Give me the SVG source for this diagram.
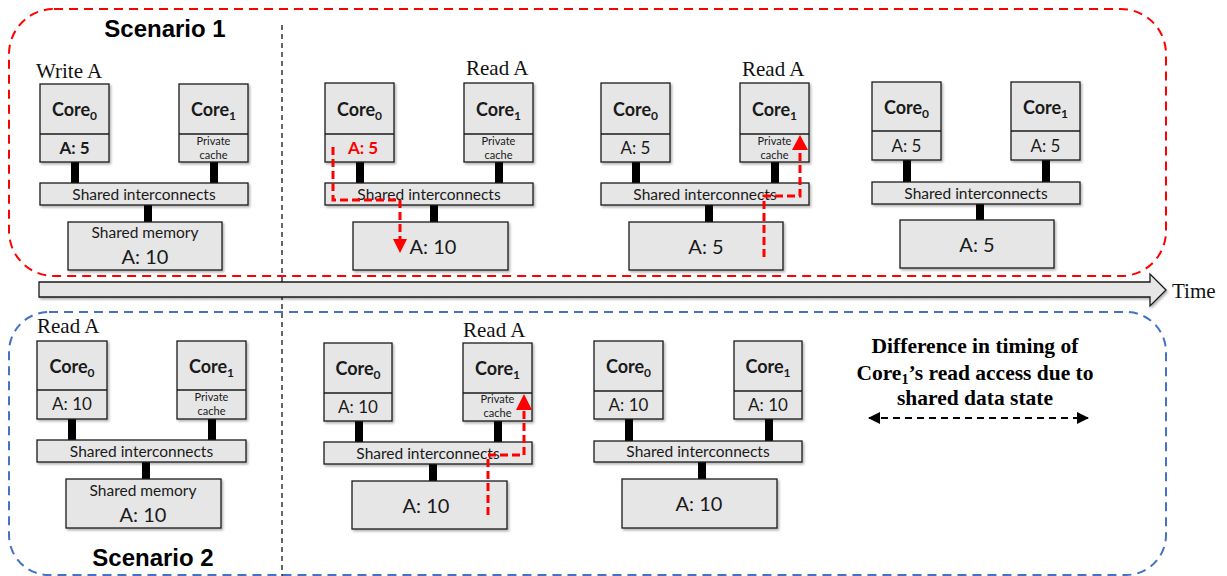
<svg xmlns="http://www.w3.org/2000/svg" width="1227" height="576" viewBox="0 0 1227 576">
  <defs>
    <filter id="sh" x="-10%" y="-10%" width="130%" height="140%">
      <feDropShadow dx="1.5" dy="1.8" stdDeviation="1.2" flood-color="#000" flood-opacity="0.3"/>
    </filter>
    <marker id="legend-head" viewBox="0 0 12 12" refX="11" refY="6" markerWidth="12" markerHeight="12" markerUnits="userSpaceOnUse" orient="auto-start-reverse">
      <path d="M0,0 L12,6 L0,12 Z" fill="#000"/>
    </marker>
  </defs>
  <style>
    .box{fill:#e6e6e6;stroke:#1a1a1a;stroke-width:1.3;filter:url(#sh)}
    .div{stroke:#1a1a1a;stroke-width:1.3}
    .cal{font-family:Lato,"Open Sans","Liberation Sans",sans-serif;fill:#1a1a1a;text-anchor:middle}
    .core{font-size:18px;font-weight:bold}
    .sub{font-size:12px}
    .val{font-size:17px}
    .bold{font-weight:bold}
    .hot{fill:#ff0000}
    .pc{font-size:11px}
    .ic{font-size:15.5px}
    .memv{font-size:20px}
    .op{font-family:"Liberation Serif",serif;font-size:21px;fill:#111}
    .title{font-family:"Liberation Sans",Arial,sans-serif;font-weight:bold;font-size:24px;fill:#000;text-anchor:middle}
    .stem{fill:#000}
    .flow{fill:none;stroke:#ff0000;stroke-width:3;stroke-dasharray:8 4}
    .head{fill:#ff0000}
    .legend{font-family:"Liberation Serif",serif;font-weight:bold;font-size:21.5px;fill:#000;text-anchor:middle}
  </style>

  <!-- scenario frames and timeline -->
  <g id="frames">
    <rect x="9" y="9" width="1157" height="267" rx="45" fill="none" stroke="#ff0000" stroke-width="2" stroke-dasharray="9 6"/>
    <rect x="9" y="312" width="1157" height="263" rx="40" fill="none" stroke="#4472c4" stroke-width="2" stroke-dasharray="9 6"/>
    <line x1="282" y1="25" x2="282" y2="576" stroke="#000" stroke-width="1.2" stroke-dasharray="5 4"/>
    <text class="title" x="165" y="37">Scenario 1</text>
    <text class="title" x="153" y="566">Scenario 2</text>
  </g>

  <g id="timeline">
    <polygon points="39,282 1150,282 1150,274 1166,290 1150,306 1150,297 39,297" fill="#e6e6e6" stroke="#1a1a1a" stroke-width="1.3" filter="url(#sh)"/>
    <text class="op" x="1172" y="298">Time</text>
  </g>

  <!-- bus stems between cores, interconnect and memory -->
  <g id="connectors">
    <g transform="translate(40,84)"><rect class="stem" x="31" y="78" width="8" height="21"/><rect class="stem" x="170" y="78" width="8" height="21"/><rect class="stem" x="104" y="121" width="8" height="17"/></g>
    <g transform="translate(325,83)"><rect class="stem" x="31" y="78" width="8" height="22"/><rect class="stem" x="170" y="78" width="8" height="22"/><rect class="stem" x="105" y="122" width="8" height="17"/></g>
    <g transform="translate(601,83)"><rect class="stem" x="31" y="78" width="8" height="22"/><rect class="stem" x="170" y="78" width="8" height="22"/><rect class="stem" x="104" y="122" width="8" height="17"/></g>
    <g transform="translate(872,82)"><rect class="stem" x="31" y="78" width="8" height="22"/><rect class="stem" x="170" y="78" width="8" height="22"/><rect class="stem" x="104" y="122" width="8" height="16"/></g>
    <g transform="translate(37,341)"><rect class="stem" x="31" y="78" width="8" height="21"/><rect class="stem" x="171" y="78" width="8" height="21"/><rect class="stem" x="105" y="121" width="8" height="17"/></g>
    <g transform="translate(324,343)"><rect class="stem" x="31" y="78" width="8" height="21"/><rect class="stem" x="170" y="78" width="8" height="21"/><rect class="stem" x="105" y="121" width="8" height="17"/></g>
    <g transform="translate(594,341)"><rect class="stem" x="31" y="78" width="8" height="22"/><rect class="stem" x="171" y="78" width="8" height="22"/><rect class="stem" x="104" y="121" width="8" height="17"/></g>
  </g>

  <!-- Scenario 1, step 1: core 0 writes A -->
  <g id="s1-step1" transform="translate(40,84)">
    <g id="s1-step1-core0"><rect class="box" x="0" y="0" width="69" height="78"/><line class="div" x1="0" y1="50" x2="69" y2="50"/>
      <text class="cal core" x="34.5" y="32">Core<tspan class="sub" dy="4">0</tspan></text>
      <text class="cal val bold" x="34.5" y="70">A: 5</text></g>
    <g id="s1-step1-core1"><rect class="box" x="139" y="0" width="69" height="78"/><line class="div" x1="139" y1="50" x2="208" y2="50"/>
      <text class="cal core" x="173.5" y="32">Core<tspan class="sub" dy="4">1</tspan></text>
      <text class="cal pc" x="173.5" y="61">Private</text><text class="cal pc" x="173.5" y="75">cache</text></g>
    <g id="s1-step1-bus"><rect class="box" x="0" y="99" width="208" height="22"/><text class="cal ic" x="104" y="116">Shared interconnects</text></g>
    <g id="s1-step1-mem"><rect class="box" x="28" y="138" width="154" height="48"/>
      <text class="cal ic" x="105" y="154">Shared memory</text><text class="cal memv" x="105" y="180">A: 10</text></g>
  </g>
  <text class="op" x="36" y="78">Write A</text>

  <!-- Scenario 1, step 2: write-back of A, core 1 requests A -->
  <g id="s1-step2" transform="translate(325,83)">
    <g id="s1-step2-core0"><rect class="box" x="0" y="0" width="69" height="79"/><line class="div" x1="0" y1="51" x2="69" y2="51"/>
      <text class="cal core" x="34.5" y="33">Core<tspan class="sub" dy="4">0</tspan></text>
      <text class="cal val bold hot" x="38" y="71">A: 5</text></g>
    <g id="s1-step2-core1"><rect class="box" x="139" y="0" width="69" height="79"/><line class="div" x1="139" y1="51" x2="208" y2="51"/>
      <text class="cal core" x="173.5" y="33">Core<tspan class="sub" dy="4">1</tspan></text>
      <text class="cal pc" x="173.5" y="62">Private</text><text class="cal pc" x="173.5" y="76">cache</text></g>
    <g id="s1-step2-bus"><rect class="box" x="0" y="100" width="208" height="22"/><text class="cal ic" x="104" y="117">Shared interconnects</text></g>
    <g id="s1-step2-mem"><rect class="box" x="28" y="139" width="155" height="48"/><text class="cal memv" x="108" y="171">A: 10</text></g>
  </g>
  <text class="op" x="466" y="75">Read A</text>

  <!-- Scenario 1, step 3: core 1 fetches A from memory -->
  <g id="s1-step3" transform="translate(601,83)">
    <g id="s1-step3-core0"><rect class="box" x="0" y="0" width="69" height="79"/><line class="div" x1="0" y1="51" x2="69" y2="51"/>
      <text class="cal core" x="34.5" y="33">Core<tspan class="sub" dy="4">0</tspan></text>
      <text class="cal val" x="34.5" y="71">A: 5</text></g>
    <g id="s1-step3-core1"><rect class="box" x="139" y="0" width="69" height="79"/><line class="div" x1="139" y1="51" x2="208" y2="51"/>
      <text class="cal core" x="173.5" y="33">Core<tspan class="sub" dy="4">1</tspan></text>
      <text class="cal pc" x="173.5" y="62">Private</text><text class="cal pc" x="173.5" y="76">cache</text></g>
    <g id="s1-step3-bus"><rect class="box" x="0" y="100" width="208" height="22"/><text class="cal ic" x="104" y="117">Shared interconnects</text></g>
    <g id="s1-step3-mem"><rect class="box" x="28" y="139" width="154" height="48"/><text class="cal memv" x="105" y="171">A: 5</text></g>
  </g>
  <text class="op" x="742" y="76">Read A</text>

  <!-- Scenario 1, step 4: both caches hold A -->
  <g id="s1-step4" transform="translate(872,82)">
    <g id="s1-step4-core0"><rect class="box" x="0" y="0" width="69" height="78"/><line class="div" x1="0" y1="49" x2="69" y2="49"/>
      <text class="cal core" x="34.5" y="32">Core<tspan class="sub" dy="4">0</tspan></text>
      <text class="cal val" x="34.5" y="70">A: 5</text></g>
    <g id="s1-step4-core1"><rect class="box" x="139" y="0" width="69" height="78"/><line class="div" x1="139" y1="49" x2="208" y2="49"/>
      <text class="cal core" x="173.5" y="32">Core<tspan class="sub" dy="4">1</tspan></text>
      <text class="cal val" x="173.5" y="70">A: 5</text></g>
    <g id="s1-step4-bus"><rect class="box" x="0" y="100" width="208" height="22"/><text class="cal ic" x="104" y="117">Shared interconnects</text></g>
    <g id="s1-step4-mem"><rect class="box" x="28" y="138" width="154" height="48"/><text class="cal memv" x="105" y="170">A: 5</text></g>
  </g>

  <!-- Scenario 2, step 1: core 0 reads A -->
  <g id="s2-step1" transform="translate(37,341)">
    <g id="s2-step1-core0"><rect class="box" x="0" y="0" width="70" height="78"/><line class="div" x1="0" y1="49" x2="70" y2="49"/>
      <text class="cal core" x="35" y="32">Core<tspan class="sub" dy="4">0</tspan></text>
      <text class="cal val" x="35" y="69">A: 10</text></g>
    <g id="s2-step1-core1"><rect class="box" x="140" y="0" width="69" height="78"/><line class="div" x1="140" y1="49" x2="209" y2="49"/>
      <text class="cal core" x="174.5" y="32">Core<tspan class="sub" dy="4">1</tspan></text>
      <text class="cal pc" x="174.5" y="60">Private</text><text class="cal pc" x="174.5" y="74">cache</text></g>
    <g id="s2-step1-bus"><rect class="box" x="0" y="99" width="209" height="22"/><text class="cal ic" x="104.5" y="116">Shared interconnects</text></g>
    <g id="s2-step1-mem"><rect class="box" x="29" y="138" width="155" height="49"/>
      <text class="cal ic" x="106" y="155">Shared memory</text><text class="cal memv" x="106" y="181">A: 10</text></g>
  </g>
  <text class="op" x="37" y="333">Read A</text>

  <!-- Scenario 2, step 2: core 1 reads A from memory -->
  <g id="s2-step2" transform="translate(324,343)">
    <g id="s2-step2-core0"><rect class="box" x="0" y="0" width="68" height="78"/><line class="div" x1="0" y1="50" x2="68" y2="50"/>
      <text class="cal core" x="34" y="32">Core<tspan class="sub" dy="4">0</tspan></text>
      <text class="cal val" x="34" y="70">A: 10</text></g>
    <g id="s2-step2-core1"><rect class="box" x="139" y="0" width="69" height="78"/><line class="div" x1="139" y1="50" x2="208" y2="50"/>
      <text class="cal core" x="173.5" y="32">Core<tspan class="sub" dy="4">1</tspan></text>
      <text class="cal pc" x="173.5" y="60">Private</text><text class="cal pc" x="173.5" y="74">cache</text></g>
    <g id="s2-step2-bus"><rect class="box" x="0" y="99" width="208" height="22"/><text class="cal ic" x="104" y="116">Shared interconnects</text></g>
    <g id="s2-step2-mem"><rect class="box" x="28" y="138" width="155" height="48"/><text class="cal memv" x="102" y="170">A: 10</text></g>
  </g>
  <text class="op" x="463" y="337">Read A</text>

  <!-- Scenario 2, step 3: both caches hold A -->
  <g id="s2-step3" transform="translate(594,341)">
    <g id="s2-step3-core0"><rect class="box" x="0" y="0" width="69" height="78"/><line class="div" x1="0" y1="50" x2="69" y2="50"/>
      <text class="cal core" x="34.5" y="32">Core<tspan class="sub" dy="4">0</tspan></text>
      <text class="cal val" x="34.5" y="70">A: 10</text></g>
    <g id="s2-step3-core1"><rect class="box" x="140" y="0" width="68" height="78"/><line class="div" x1="140" y1="50" x2="208" y2="50"/>
      <text class="cal core" x="174" y="32">Core<tspan class="sub" dy="4">1</tspan></text>
      <text class="cal val" x="174" y="70">A: 10</text></g>
    <g id="s2-step3-bus"><rect class="box" x="0" y="100" width="208" height="21"/><text class="cal ic" x="104" y="116">Shared interconnects</text></g>
    <g id="s2-step3-mem"><rect class="box" x="28" y="138" width="155" height="49"/><text class="cal memv" x="105" y="170">A: 10</text></g>
  </g>

  <!-- data movement paths -->
  <g id="data-flows">
    <path class="flow" d="M333,147 V200 H400 V240"/>
    <polygon class="head" points="393,239 407,239 400,253"/>
    <path class="flow" d="M764,257 V196 H800 V150"/>
    <polygon class="head" points="792,150 808,150 800,135"/>
    <path class="flow" d="M488,515 V455 H524 V410"/>
    <polygon class="head" points="516,410 532,410 524,394"/>
  </g>

  <!-- legend -->
  <g id="legend">
    <text class="legend" x="975" y="353">Difference in timing of</text>
    <text class="legend" x="975" y="380">Core<tspan font-size="14" dy="4">1</tspan><tspan dy="-4">’s read access due to</tspan></text>
    <text class="legend" x="975" y="405">shared data state</text>
    <line x1="869" y1="418" x2="1088" y2="418" stroke="#000" stroke-width="2.2" stroke-dasharray="7 5" marker-start="url(#legend-head)" marker-end="url(#legend-head)"/>
  </g>
</svg>
